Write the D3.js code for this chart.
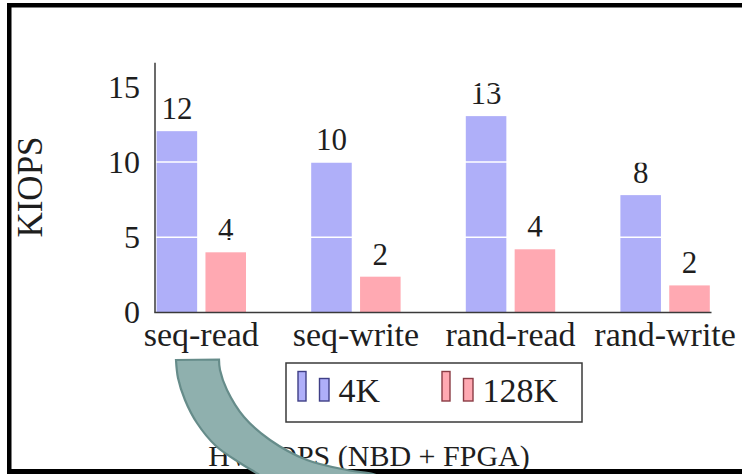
<!DOCTYPE html>
<html>
<head>
<meta charset="utf-8">
<script src="https://cdn.jsdelivr.net/npm/d3@7"></script>
<style>
  html, body { margin: 0; padding: 0; background: #fff; }
  svg { display: block; }
  text { font-family: "Liberation Serif", "Times New Roman", serif; fill: #1e1e1e; }
</style>
</head>
<body>
<svg id="chart" width="742" height="474"></svg>
<script>
// ---- data ----
const categories = ["seq-read", "seq-write", "rand-read", "rand-write"];
const seriesNames = ["4K", "128K"];
const values4K = [12.05, 10.0, 13.05, 7.8];
const values128K = [4.0, 2.38, 4.2, 1.8];
const barLabels4K = ["12", "10", "13", "8"];
const barLabels128K = ["4", "2", "4", "2"];
const yTicks = [0, 5, 10, 15];
const yLabel = "KIOPS";
const titleText = "HW IOPS (NBD + FPGA)";
const seriesColors = ["#afaff9", "#ffa9b2"];
const seriesStrokes = ["#3f3f86", "#8a3c45"];

const svg = d3.select("#chart");

// frame
svg.append("rect").attr("x", 0).attr("y", 0).attr("width", 742).attr("height", 474).attr("fill", "#fff");

// scales
const y = d3.scaleLinear().domain([0, 16.6]).range([312.5, 62.7]);
const x0 = d3.scaleBand().domain(categories).range([124, 742.4]).paddingInner(0).paddingOuter(0);
const x1 = d3.scaleBand().domain(seriesNames).range([-44.7, 44.7]).paddingInner(0.17).paddingOuter(0);

const rows = categories.map((c, i) => ({
  cat: c,
  vals: [
    { s: "4K", v: values4K[i], label: barLabels4K[i], k: 0 },
    { s: "128K", v: values128K[i], label: barLabels128K[i], k: 1 }
  ]
}));

// bars
const g = svg.append("g");
const groups = g.selectAll("g.grp").data(rows).join("g")
  .attr("class", "grp")
  .attr("transform", d => `translate(${x0(d.cat) + x0.bandwidth() / 2},0)`);

groups.selectAll("rect").data(d => d.vals).join("rect")
  .attr("x", d => x1(d.s))
  .attr("width", x1.bandwidth())
  .attr("y", d => y(d.v))
  .attr("height", d => y(0) - y(d.v))
  .attr("fill", d => seriesColors[d.k]);

// white grid lines over bars
g.selectAll("line.grid").data(yTicks.filter(t => t > 0)).join("line")
  .attr("x1", 156).attr("x2", 711)
  .attr("y1", d => y(d)).attr("y2", d => y(d))
  .attr("stroke", "#fff").attr("stroke-width", 1.6);

// bar value labels
groups.selectAll("text.val").data(d => d.vals).join("text")
  .attr("class", "val")
  .attr("x", d => x1(d.s) + x1.bandwidth() / 2)
  .attr("y", d => y(d.v) - 12)
  .attr("text-anchor", "middle")
  .attr("font-size", 31)
  .text(d => d.label);

// y axis
const yAxis = svg.append("g").attr("transform", "translate(155,0)")
  .call(d3.axisLeft(y).tickValues(yTicks).tickSize(0).tickPadding(15).tickFormat(d3.format("d")));
yAxis.select(".domain").remove();
yAxis.selectAll("text").attr("font-size", 32).attr("font-family", "Liberation Serif, serif").attr("fill", "#1e1e1e");
svg.append("line").attr("x1", 155).attr("x2", 155).attr("y1", y.range()[1]).attr("y2", y(0))
  .attr("stroke", "#3a3a3a").attr("stroke-width", 1.5);

// x axis
const xAxis = svg.append("g").attr("transform", `translate(0,${y(0)})`)
  .call(d3.axisBottom(x0).tickSize(0).tickPadding(0));
xAxis.select(".domain").remove();
xAxis.selectAll("text").attr("font-size", 34).attr("dy", 0).attr("y", 33.5)
  .attr("font-family", "Liberation Serif, serif").attr("fill", "#1e1e1e");
svg.append("line").attr("x1", 154.3).attr("x2", 711.5).attr("y1", y(0)).attr("y2", y(0))
  .attr("stroke", "#3a3a3a").attr("stroke-width", 1.5);

// y label
svg.append("text")
  .attr("transform", "translate(42,187) rotate(-90)")
  .attr("text-anchor", "middle")
  .attr("font-size", 35)
  .text(yLabel);

// legend
const leg = svg.append("g");
leg.append("rect").attr("x", 286).attr("y", 363).attr("width", 296).attr("height", 59)
  .attr("fill", "#fff").attr("stroke", "#3a3a3a").attr("stroke-width", 1.5);
const items = leg.selectAll("g.item").data(seriesNames).join("g")
  .attr("class", "item")
  .attr("transform", (d, i) => `translate(${298 + i * 144},0)`);
items.append("rect").attr("x", 0).attr("y", 371.5).attr("width", 8).attr("height", 29.5)
  .attr("fill", (d, i) => seriesColors[i]).attr("stroke", (d, i) => seriesStrokes[i]).attr("stroke-width", 1.4);
items.append("rect").attr("x", 21.5).attr("y", 378.5).attr("width", 9.5).attr("height", 22.5)
  .attr("fill", (d, i) => seriesColors[i]).attr("stroke", (d, i) => seriesStrokes[i]).attr("stroke-width", 1.4);
items.append("text").attr("x", 40.5).attr("y", 401.5).attr("font-size", 34).text(d => d);

// title
svg.append("text").attr("x", 369).attr("y", 466).attr("text-anchor", "middle")
  .attr("font-size", 30).text(titleText);

// frame border (top, left, bottom)
svg.append("rect").attr("x", 7).attr("y", 3).attr("width", 735).attr("height", 4.5).attr("fill", "#000");
svg.append("rect").attr("x", 7).attr("y", 3).attr("width", 4.5).attr("height", 471).attr("fill", "#000");
svg.append("rect").attr("x", 7).attr("y", 469).attr("width", 735).attr("height", 5).attr("fill", "#000");

// curved arrow overlay
const leftEdge = [[176, 360], [178, 378], [185, 400], [197, 423], [216, 446], [240, 463], [258, 474], [262, 477]];
const rightEdge = [[380, 477], [373, 474], [347, 470], [307, 460], [270, 440], [244, 417], [227, 390], [220, 370], [219, 359.5]];
const lineGen = d3.line().curve(d3.curveCatmullRom);
const p = lineGen(leftEdge) + "L" + lineGen(rightEdge).slice(1) + "Z";
svg.append("path").attr("d", p).attr("fill", "#8fb0ae").attr("stroke", "#668c8a").attr("stroke-width", 2.2);
</script>
</body>
</html>
